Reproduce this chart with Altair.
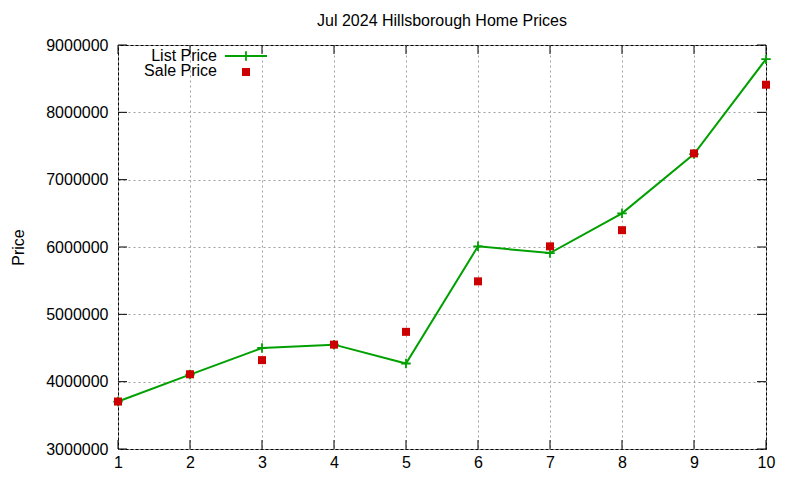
import altair as alt
import pandas as pd

# Hillsborough, Jul 2024
months = [1, 2, 3, 4, 5, 6, 7, 8, 9, 10]
list_price = [3705000, 4105000, 4500000, 4550000, 4270000, 6010000, 5910000, 6500000, 7380000, 8790000]
sale_price = [3705000, 4110000, 4320000, 4550000, 4740000, 5490000, 6010000, 6250000, 7390000, 8410000]

y_ticks = [3000000, 4000000, 5000000, 6000000, 7000000, 8000000, 9000000]
series = ["List Price", "Sale Price"]

W, H = 648, 404
GREEN = "#00a000"
RED = "#cc0000"
FONT = "Liberation Sans"
PLUS = "M-1,0L1,0M0,-1L0,1"

df = pd.DataFrame({"x": months, "list": list_price, "sale": sale_price})
ytick_df = pd.DataFrame({"v": y_ticks})
xtick_df = pd.DataFrame({"v": months})

xs = alt.Scale(domain=[1, 10], nice=False)
ys = alt.Scale(domain=[3000000, 9000000], nice=False)

x_axis = alt.Axis(values=months, grid=True, gridDash=[2, 3], gridColor="#a0a0a0",
                  domain=False, ticks=False, labelPadding=5, labelFontSize=16,
                  labelFont=FONT, labelColor="black", format="d", labelFlush=False,
                  title=None)
y_axis = alt.Axis(values=y_ticks, grid=True, gridDash=[2, 3], gridColor="#a0a0a0",
                  domain=False, ticks=False, labelPadding=10, labelFontSize=16,
                  labelFont=FONT, labelColor="black", format="d", labelFlush=False,
                  title="Price", titleFont=FONT, titleFontSize=16, titleFontWeight="normal",
                  titleX=-100, titleY=H / 2, titleBaseline="middle", titleColor="black")

base = alt.Chart(df)

line = base.mark_line(color=GREEN, strokeWidth=2).encode(
    x=alt.X("x:Q", scale=xs, axis=x_axis),
    y=alt.Y("list:Q", scale=ys, axis=y_axis),
)
plus = base.mark_point(shape=PLUS, size=90, filled=False, stroke=GREEN,
                       strokeWidth=1.8, opacity=1).encode(
    x=alt.X("x:Q", scale=xs), y=alt.Y("list:Q", scale=ys))
squares = base.mark_square(size=64, color=RED, opacity=1).encode(
    x=alt.X("x:Q", scale=xs), y=alt.Y("sale:Q", scale=ys))

# inward border ticks, gnuplot style
tl = alt.Chart(ytick_df).mark_rule(color="black").encode(
    y=alt.Y("v:Q", scale=ys), x=alt.value(0), x2=alt.value(9))
tr = alt.Chart(ytick_df).mark_rule(color="black").encode(
    y=alt.Y("v:Q", scale=ys), x=alt.value(W - 9), x2=alt.value(W))
tb = alt.Chart(xtick_df).mark_rule(color="black").encode(
    x=alt.X("v:Q", scale=xs), y=alt.value(H - 9), y2=alt.value(H))
tt = alt.Chart(xtick_df).mark_rule(color="black").encode(
    x=alt.X("v:Q", scale=xs), y=alt.value(0), y2=alt.value(9))

# legend, top left inside the plot
leg = pd.DataFrame({"name": series})
leg_text1 = alt.Chart(leg.iloc[[0]]).mark_text(align="right", baseline="middle", fontSize=16,
                                               font=FONT, color="black").encode(
    text="name:N", x=alt.value(99), y=alt.value(11))
leg_text2 = alt.Chart(leg.iloc[[1]]).mark_text(align="right", baseline="middle", fontSize=16,
                                               font=FONT, color="black").encode(
    text="name:N", x=alt.value(99), y=alt.value(26))
leg_line = alt.Chart(leg.iloc[[0]]).mark_rule(color=GREEN, strokeWidth=2).encode(
    x=alt.value(107), x2=alt.value(149), y=alt.value(11))
leg_plus = alt.Chart(leg.iloc[[0]]).mark_point(shape=PLUS, size=90, filled=False, stroke=GREEN,
                                               strokeWidth=1.8, opacity=1).encode(
    x=alt.value(128), y=alt.value(11))
leg_sq = alt.Chart(leg.iloc[[1]]).mark_square(size=64, color=RED, opacity=1).encode(
    x=alt.value(128), y=alt.value(27))

chart = alt.layer(
    line, tl, tr, tb, tt, plus, squares,
    leg_text1, leg_text2, leg_line, leg_plus, leg_sq,
).properties(
    width=W, height=H,
    autosize=alt.AutoSizeParams(type="none"),
    padding={"left": 110, "top": 37, "right": 20, "bottom": 20},
    title=alt.TitleParams("Jul 2024 Hillsborough Home Prices", font=FONT, fontSize=16,
                          fontWeight="normal", color="black", offset=8),
    background="white",
).configure_view(stroke="black", strokeWidth=1)

chart.save("out.html", embed_options={"renderer": "svg", "actions": False})
